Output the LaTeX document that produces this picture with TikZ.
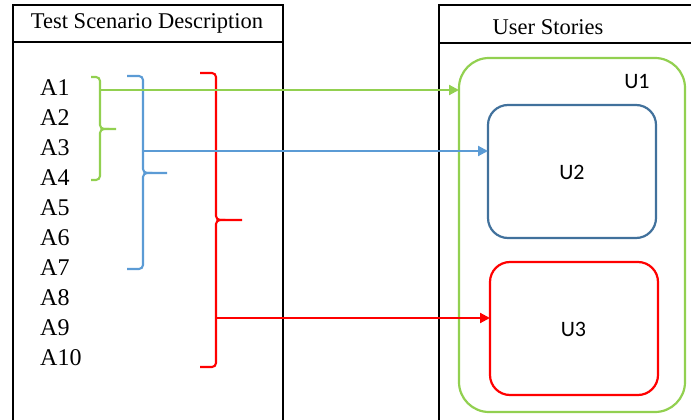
\documentclass[tikz,border=0pt]{standalone}
\usepackage{fontspec}
\setmainfont{Liberation Serif}
\newfontfamily\calibri{Carlito}
\usetikzlibrary{arrows.meta}
\definecolor{lgreen}{RGB}{146,208,80}
\definecolor{lblue}{RGB}{91,155,213}
\definecolor{dblue}{RGB}{65,113,156}
\definecolor{lred}{RGB}{255,0,0}
\tikzset{
  panel/.style={draw=black, line width=2pt},
  story/.style={rounded corners=20pt, line width=2.2pt, fill=none},
  brace/.style={line width=2.1pt, rounded corners=4pt},
  link/.style={line width=2.1pt, -{Triangle[length=10pt,width=10pt]}},
  alabel/.style={font=\fontsize{24}{24}\selectfont, anchor=west, inner sep=0pt},
  ulabel/.style={font=\calibri\fontsize{22}{22}\selectfont, inner sep=0pt},
  head/.style={font=\fontsize{22.5}{22.5}\selectfont, inner sep=0pt}
}
\begin{document}
\begin{tikzpicture}[x=1pt, y=-1pt]
\useasboundingbox (0,0) rectangle (691,420);
\clip (0,0) rectangle (691,420);

% left panel: scenario steps
\draw[panel] (13,5) rectangle (283,430);
\draw[panel] (13,42) -- (283,42);
\node[head] (tsd) at (147,23) {Test Scenario Description};

% right panel: user stories
\draw[panel] (439,5) rectangle (700,430);
\draw[panel] (439,43) -- (700,43);
\node[head] (us) at (548,27) {User Stories};

% scenario steps A1..A10
\foreach \i in {1,...,10}{
  \node[alabel] (a\i) at (40,{57.5+30*\i}) {A\i};
}

% story boxes
\draw[story, draw=lgreen, rounded corners=30pt] (459,58) rectangle (685,412);
\coordinate (u1west) at (459,90);
\draw[story, draw=dblue] (488,105) rectangle (656,238);
\coordinate (u2west) at (488,151);
\draw[story, draw=lred] (490,262) rectangle (658,395);
\coordinate (u3west) at (490,318);

\node[ulabel] (u1) at (637,82) {U1};
\node[ulabel] (u2) at (572,172) {U2};
\node[ulabel] (u3) at (573.5,329) {U3};

% green brace A1-A4
\draw[brace, draw=lgreen] (91,77) -- (100,77) -- (100,129) -- (116,129);
\draw[brace, draw=lgreen] (102,129) -- (100,129) -- (100,180) -- (91,180);
\coordinate (gtap) at (100,90);
% blue brace A1-A7
\draw[brace, draw=lblue] (127,76) -- (143,76) -- (143,173) -- (167,173);
\draw[brace, draw=lblue] (145,173) -- (143,173) -- (143,269) -- (127,269);
\coordinate (btap) at (143,151);
% red brace A1-A10
\draw[brace, draw=lred] (200,73) -- (216,73) -- (216,220) -- (242,220);
\draw[brace, draw=lred] (218,220) -- (216,220) -- (216,367) -- (200,367);
\coordinate (rtap) at (216,318);

% links from scenario groups to stories
\draw[link, draw=lgreen, fill=lgreen] (gtap) -- (u1west);
\draw[link, draw=lblue, fill=lblue] (btap) -- (u2west);
\draw[link, draw=lred, fill=lred] (rtap) -- (u3west);
\end{tikzpicture}
\end{document}
